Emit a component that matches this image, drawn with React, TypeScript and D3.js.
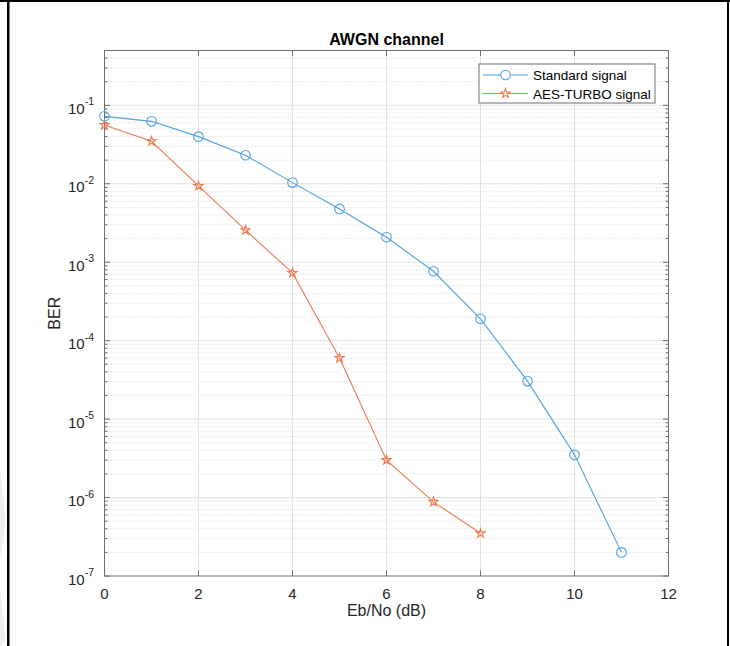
import React, { useEffect, useRef } from 'react';
import * as d3 from 'd3';

const ebno = [0, 1, 2, 3, 4, 5, 6, 7, 8, 9, 10, 11, 12];
const standardBer = [0.0724, 0.0625, 0.0399, 0.0231, 0.01035, 0.00478, 0.00208, 0.000767, 0.00019, 3.05e-5, 3.5e-6, 2.0e-7];
const turboBer = [0.056, 0.0348, 0.00938, 0.00256, 0.00073, 6.0e-5, 3.0e-6, 8.8e-7, 3.5e-7];
const xTicks = [0, 2, 4, 6, 8, 10, 12];
const yExponents = [-7, -6, -5, -4, -3, -2, -1];
const seriesNames = ['Standard signal', 'AES-TURBO signal'];

const FONT = '"Liberation Sans", Arial, Helvetica, sans-serif';
const BLUE = '#4fa2dd';
const ORANGE = '#ea7a50';
const AXIS = '#6e6e6e';
const TEXT = '#262626';

const App = () => {
  const ref = useRef<SVGSVGElement>(null);

  useEffect(() => {
    const svg = d3.select(ref.current);
    svg.selectAll('*').remove();

    const left = 104.5, right = 668.5, top = 50.5, bottom = 576;

    const x = d3.scaleLinear().domain([0, 12]).range([left, right]);
    const y = d3.scaleLog().domain([1e-7, 0.5]).range([bottom, top]);

    // picture frame
    svg.append('path')
      .attr('d', 'M0,470 L6,520 L0,560 Z M0,590 L6,640 L0,646 Z')
      .attr('fill', '#eeeeee');
    svg.append('rect').attr('x', 0).attr('y', 0).attr('width', 730).attr('height', 2).attr('fill', '#000');
    svg.append('rect').attr('x', 7).attr('y', 0).attr('width', 2.5).attr('height', 646).attr('fill', '#000');
    svg.append('rect').attr('x', 727).attr('y', 0).attr('width', 2).attr('height', 646).attr('fill', '#000');

    // plot background
    svg.append('rect')
      .attr('x', left).attr('y', top)
      .attr('width', right - left).attr('height', bottom - top)
      .attr('fill', '#fff');

    const grid = svg.append('g');

    // minor y grid
    const minor: number[] = [];
    yExponents.forEach(e => {
      for (let k = 2; k <= 9; k++) {
        const v = k * Math.pow(10, e);
        if (v < 0.5) minor.push(v);
      }
    });
    grid.selectAll('line.minor')
      .data(minor)
      .join('line')
      .attr('x1', left).attr('x2', right)
      .attr('y1', d => y(d)).attr('y2', d => y(d))
      .attr('stroke', '#cfcfcf')
      .attr('stroke-width', 0.8)
      .attr('stroke-dasharray', '1,2');

    // major grid
    grid.selectAll('line.my')
      .data(yExponents.slice(1))
      .join('line')
      .attr('x1', left).attr('x2', right)
      .attr('y1', d => y(Math.pow(10, d))).attr('y2', d => y(Math.pow(10, d)))
      .attr('stroke', '#e2e2e2')
      .attr('stroke-width', 1);
    grid.selectAll('line.mx')
      .data(xTicks.slice(1, -1))
      .join('line')
      .attr('x1', d => x(d)).attr('x2', d => x(d))
      .attr('y1', top).attr('y2', bottom)
      .attr('stroke', '#e2e2e2')
      .attr('stroke-width', 1);

    // axes box and ticks
    const ax = svg.append('g').attr('stroke', AXIS).attr('stroke-width', 1);
    ax.append('rect')
      .attr('x', left).attr('y', top)
      .attr('width', right - left).attr('height', bottom - top)
      .attr('fill', 'none');
    xTicks.forEach(t => {
      ax.append('line').attr('x1', x(t)).attr('x2', x(t)).attr('y1', bottom).attr('y2', bottom - 5.5);
      ax.append('line').attr('x1', x(t)).attr('x2', x(t)).attr('y1', top).attr('y2', top + 5.5);
    });
    yExponents.forEach(e => {
      const yy = y(Math.pow(10, e));
      ax.append('line').attr('x1', left).attr('x2', left + 5.5).attr('y1', yy).attr('y2', yy);
      ax.append('line').attr('x1', right).attr('x2', right - 5.5).attr('y1', yy).attr('y2', yy);
    });
    minor.forEach(v => {
      const yy = y(v);
      ax.append('line').attr('x1', left).attr('x2', left + 3).attr('y1', yy).attr('y2', yy);
      ax.append('line').attr('x1', right).attr('x2', right - 3).attr('y1', yy).attr('y2', yy);
    });

    // tick labels
    svg.append('g')
      .selectAll('text')
      .data(xTicks)
      .join('text')
      .attr('x', d => x(d))
      .attr('y', bottom + 22.5)
      .attr('text-anchor', 'middle')
      .attr('font-family', FONT)
      .attr('font-size', 15)
      .attr('fill', TEXT)
      .text(d => d);

    const yl = svg.append('g')
      .selectAll('text')
      .data(yExponents)
      .join('text')
      .attr('x', 94)
      .attr('y', d => y(Math.pow(10, d)) + 8.5)
      .attr('text-anchor', 'end')
      .attr('font-family', FONT)
      .attr('font-size', 15)
      .attr('fill', TEXT);
    yl.append('tspan').text('10');
    yl.append('tspan').attr('dy', -8.5).attr('font-size', 10.5).text(d => `${d}`);

    // titles
    svg.append('text')
      .attr('x', (left + right) / 2).attr('y', 45)
      .attr('text-anchor', 'middle')
      .attr('font-family', FONT).attr('font-size', 16).attr('font-weight', 'bold')
      .attr('fill', '#000')
      .text('AWGN channel');
    svg.append('text')
      .attr('x', (left + right) / 2).attr('y', 616)
      .attr('text-anchor', 'middle')
      .attr('font-family', FONT).attr('font-size', 16)
      .attr('fill', TEXT)
      .text('Eb/No (dB)');
    svg.append('text')
      .attr('transform', `translate(60,${(top + bottom) / 2}) rotate(-90)`)
      .attr('text-anchor', 'middle')
      .attr('font-family', FONT).attr('font-size', 16)
      .attr('fill', TEXT)
      .text('BER');

    // series
    const line = d3.line<number>()
      .x((_, i) => x(ebno[i]))
      .y(d => y(d));
    const star = d3.symbol().type(d3.symbolStar).size(26);

    const plot = svg.append('g');
    plot.append('path')
      .datum(standardBer)
      .attr('fill', 'none').attr('stroke', BLUE).attr('stroke-width', 1.1)
      .attr('d', line);
    plot.selectAll('circle')
      .data(standardBer)
      .join('circle')
      .attr('cx', (_, i) => x(ebno[i]))
      .attr('cy', d => y(d))
      .attr('r', 4.8)
      .attr('fill', 'none').attr('stroke', BLUE).attr('stroke-width', 1.1);

    plot.append('path')
      .datum(turboBer)
      .attr('fill', 'none').attr('stroke', ORANGE).attr('stroke-width', 1.1)
      .attr('d', line);
    plot.selectAll('path.star')
      .data(turboBer)
      .join('path')
      .attr('class', 'star')
      .attr('transform', (d, i) => `translate(${x(ebno[i])},${y(d)})`)
      .attr('d', star)
      .attr('fill', 'none').attr('stroke', ORANGE).attr('stroke-width', 1.1);

    // legend
    const lg = svg.append('g').attr('transform', 'translate(479,64)');
    lg.append('rect')
      .attr('width', 176).attr('height', 39)
      .attr('fill', '#fff').attr('stroke', AXIS).attr('stroke-width', 1);
    const colors = [BLUE, ORANGE];
    seriesNames.forEach((name, i) => {
      const cy = 11 + i * 18.5;
      lg.append('line')
        .attr('x1', 4).attr('x2', 49).attr('y1', cy).attr('y2', cy)
        .attr('stroke', colors[i]).attr('stroke-width', 1.1);
      if (i === 0) {
        lg.append('circle').attr('cx', 26.5).attr('cy', cy).attr('r', 4.8)
          .attr('fill', '#fff').attr('stroke', colors[i]).attr('stroke-width', 1.1);
      } else {
        lg.append('path').attr('transform', `translate(26.5,${cy})`).attr('d', star)
          .attr('fill', '#fff').attr('stroke', colors[i]).attr('stroke-width', 1.1);
      }
      lg.append('text')
        .attr('x', 54).attr('y', cy + 5)
        .attr('font-family', FONT).attr('font-size', 13.5)
        .attr('fill', '#000')
        .text(name);
    });
  }, []);

  return (
    <div>
      <style>{'body{margin:0;background:#fff}'}</style>
      <svg ref={ref} width={730} height={646} style={{ display: 'block' }} />
    </div>
  );
};

export default App;
